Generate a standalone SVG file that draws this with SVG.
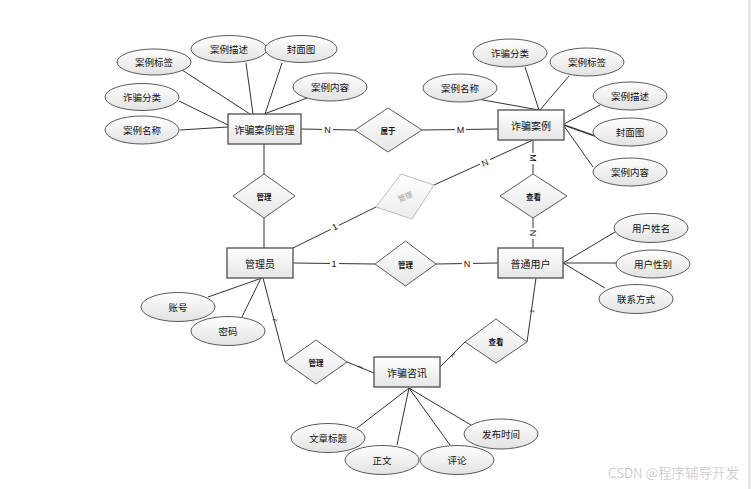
<svg xmlns="http://www.w3.org/2000/svg" width="751" height="489" viewBox="0 0 751 489">
<defs>
<linearGradient id="gE" x1="0" y1="0" x2="0" y2="1"><stop offset="0" stop-color="#ffffff"/><stop offset="1" stop-color="#e2e2e2"/></linearGradient>
<linearGradient id="gR" x1="0" y1="0" x2="0" y2="1"><stop offset="0" stop-color="#ffffff"/><stop offset="1" stop-color="#e6e6e6"/></linearGradient>
<linearGradient id="gG" x1="0" y1="0" x2="0" y2="1"><stop offset="0" stop-color="#ffffff"/><stop offset="1" stop-color="#ececec"/></linearGradient>
</defs>
<style>
text{font-family:"Noto Sans CJK SC","Liberation Sans",sans-serif;fill:#111;text-anchor:middle;dominant-baseline:central}
.ent rect{fill:url(#gR);stroke:#5a5a5a;stroke-width:1.4}
.att ellipse{fill:url(#gE);stroke:#5a5a5a;stroke-width:1}
.rel polygon{fill:url(#gR);stroke:#5a5a5a;stroke-width:1}
.et{font-size:10px}
.at{font-size:9.5px}
.rt{font-size:7.5px;font-weight:bold}
.lb{font-size:9px;font-family:"Liberation Sans",sans-serif}
.sl{font-size:6px;font-family:"Liberation Sans",sans-serif}
#conn line{stroke:#333;stroke-width:1}
</style>
<rect width="751" height="489" fill="#ffffff"/>
<rect x="748" y="0" width="3" height="489" fill="#dfe7ea"/>

<g id="conn">
<line x1="182" y1="70" x2="250" y2="114"/>
<line x1="246" y1="63" x2="253" y2="114"/>
<line x1="282" y1="63" x2="265" y2="114"/>
<line x1="307" y1="98" x2="264" y2="114"/>
<line x1="179" y1="101" x2="228" y2="125"/>
<line x1="180" y1="130" x2="228" y2="127"/>
<line x1="525" y1="67" x2="539" y2="110"/>
<line x1="569" y1="76" x2="540" y2="110"/>
<line x1="472" y1="98" x2="539" y2="110"/>
<line x1="600" y1="105" x2="564" y2="124"/>
<line x1="564" y1="125" x2="595" y2="136" style="stroke-width:1.6"/>
<line x1="564" y1="126" x2="593" y2="167"/>
<line x1="301" y1="129" x2="355" y2="130"/>
<line x1="422" y1="130" x2="498" y2="129"/>
<line x1="264" y1="144" x2="264" y2="174"/>
<line x1="264" y1="218" x2="264" y2="248"/>
<line x1="293" y1="248" x2="376" y2="207"/>
<line x1="434" y1="185" x2="533" y2="140"/>
<line x1="533" y1="140" x2="533" y2="174"/>
<line x1="533" y1="218" x2="533" y2="248"/>
<line x1="293" y1="263" x2="375" y2="264"/>
<line x1="436" y1="264" x2="498" y2="263"/>
<line x1="263" y1="278" x2="285" y2="362"/>
<line x1="347" y1="362" x2="374" y2="373"/>
<line x1="440" y1="367" x2="465" y2="342"/>
<line x1="527" y1="342" x2="536" y2="278"/>
<line x1="208" y1="297" x2="262" y2="278"/>
<line x1="242" y1="317" x2="261" y2="278"/>
<line x1="563" y1="263" x2="615" y2="232"/>
<line x1="563" y1="263" x2="616" y2="263"/>
<line x1="563" y1="263" x2="605" y2="288"/>
<line x1="357" y1="428" x2="409" y2="388"/>
<line x1="397" y1="445" x2="409" y2="388"/>
<line x1="450" y1="445" x2="409" y2="388"/>
<line x1="471" y1="425" x2="409" y2="388"/>
<g>
<rect x="322" y="124" width="11" height="11" fill="#fff"/>
<text class="lb" x="327.5" y="129.5">N</text>
<rect x="455" y="124" width="11" height="11" fill="#fff"/>
<text class="lb" x="460.5" y="130">M</text>
<rect x="330" y="221" width="9" height="11" fill="#fff" transform="rotate(-26 335 227)"/>
<text class="lb" x="335" y="227" transform="rotate(-26 335 227)">1</text>
<rect x="480" y="158" width="11" height="11" fill="#fff" transform="rotate(-24 485 163)"/>
<text class="lb" x="485" y="163" transform="rotate(-24 485 163)">N</text>
<rect x="528" y="153" width="11" height="11" fill="#fff"/>
<text class="lb" x="533" y="158" transform="rotate(90 533 158)">M</text>
<rect x="528" y="228" width="11" height="11" fill="#fff"/>
<text class="lb" x="533" y="233" transform="rotate(90 533 233)">N</text>
<rect x="330" y="258" width="9" height="11" fill="#fff"/>
<text class="lb" x="334" y="264">1</text>
<rect x="462" y="258" width="11" height="11" fill="#fff"/>
<text class="lb" x="467" y="264">N</text>
<text class="sl" x="275" y="320" transform="rotate(-76 275 320)">1</text>
<text class="sl" x="360" y="367" transform="rotate(-68 360 367)">1</text>
<text class="sl" x="453" y="355" transform="rotate(45 453 355)">1</text>
<text class="sl" x="532" y="311" transform="rotate(-82 532 311)">1</text>
</g>
</g>

<g id="e_anliguanli" class="ent"><rect x="228" y="114" width="73" height="30"/><text class="et" x="264.5" y="129.5">诈骗案例管理</text></g>
<g id="e_anli" class="ent"><rect x="498" y="110" width="66" height="30"/><text class="et" x="531" y="125.5">诈骗案例</text></g>
<g id="e_admin" class="ent"><rect x="227" y="248" width="66" height="30"/><text class="et" x="260" y="263.5">管理员</text></g>
<g id="e_user" class="ent"><rect x="498" y="248" width="65" height="30"/><text class="et" x="530.5" y="263.5">普通用户</text></g>
<g id="e_zixun" class="ent"><rect x="374" y="357" width="66" height="30"/><text class="et" x="407" y="372.5">诈骗咨讯</text></g>

<g id="r_shuyu" class="rel"><polygon points="355,130 388,108 422,130 388,152"/><text class="rt" x="388" y="130">属于</text></g>
<g id="r_guanli1" class="rel"><polygon points="233,196 264,174 295,196 264,218"/><text class="rt" x="264" y="196">管理</text></g>
<g id="r_guanli_grey"><polygon points="376,207 401,174 434,185 412,219" style="fill:url(#gG);stroke:#bdbdbd;stroke-width:1"/><text x="405" y="196" transform="rotate(-22 405 196)" style="font-size:7.5px;fill:#a0a0a0;font-weight:normal">管理</text></g>
<g id="r_chakan1" class="rel"><polygon points="500,196 533,174 567,196 533,218"/><text class="rt" x="533.5" y="196">查看</text></g>
<g id="r_guanli2" class="rel"><polygon points="375,264 405.5,241 436,264 405.5,286"/><text class="rt" x="405.5" y="264">管理</text></g>
<g id="r_guanli3" class="rel"><polygon points="285,362 316,340 347,362 316,384"/><text class="rt" x="316" y="362">管理</text></g>
<g id="r_chakan2" class="rel"><polygon points="465,342 496,319 527,342 496,363"/><text class="rt" x="496" y="341">查看</text></g>

<g id="a_m_biaoqian" class="att"><ellipse cx="154" cy="62" rx="37" ry="13"/><text class="at" x="154" y="62">案例标签</text></g>
<g id="a_m_miaoshu" class="att"><ellipse cx="229" cy="49" rx="38" ry="13.5"/><text class="at" x="229" y="49">案例描述</text></g>
<g id="a_m_fengmian" class="att"><ellipse cx="301" cy="49" rx="36" ry="13.5"/><text class="at" x="301" y="49">封面图</text></g>
<g id="a_m_neirong" class="att"><ellipse cx="330" cy="87" rx="37" ry="14"/><text class="at" x="330" y="87">案例内容</text></g>
<g id="a_m_fenlei" class="att"><ellipse cx="142" cy="97" rx="37" ry="13.5"/><text class="at" x="142" y="97">诈骗分类</text></g>
<g id="a_m_mingcheng" class="att"><ellipse cx="142" cy="130" rx="37" ry="14"/><text class="at" x="142" y="130">案例名称</text></g>

<g id="a_c_fenlei" class="att"><ellipse cx="510" cy="53" rx="37" ry="14"/><text class="at" x="510" y="53">诈骗分类</text></g>
<g id="a_c_biaoqian" class="att"><ellipse cx="587" cy="62" rx="37" ry="14"/><text class="at" x="587" y="62">案例标签</text></g>
<g id="a_c_mingcheng" class="att"><ellipse cx="460" cy="88" rx="37" ry="14"/><text class="at" x="460" y="88">案例名称</text></g>
<g id="a_c_miaoshu" class="att"><ellipse cx="630" cy="96" rx="37" ry="14"/><text class="at" x="630" y="96">案例描述</text></g>
<g id="a_c_fengmian" class="att"><ellipse cx="630" cy="132" rx="37" ry="14"/><text class="at" x="630" y="132">封面图</text></g>
<g id="a_c_neirong" class="att"><ellipse cx="630" cy="172" rx="37" ry="14"/><text class="at" x="630" y="172">案例内容</text></g>

<g id="a_zhanghao" class="att"><ellipse cx="178" cy="307" rx="37" ry="14.5"/><text class="at" x="178" y="307">账号</text></g>
<g id="a_mima" class="att"><ellipse cx="228" cy="331" rx="37" ry="14.5"/><text class="at" x="228" y="331">密码</text></g>

<g id="a_xingming" class="att"><ellipse cx="651" cy="228" rx="37" ry="14.5"/><text class="at" x="651" y="228">用户姓名</text></g>
<g id="a_xingbie" class="att"><ellipse cx="653" cy="264" rx="37" ry="14"/><text class="at" x="653" y="264">用户性别</text></g>
<g id="a_lianxi" class="att"><ellipse cx="636" cy="299" rx="37" ry="14.5"/><text class="at" x="636" y="299">联系方式</text></g>

<g id="a_biaoti" class="att"><ellipse cx="328" cy="438" rx="37" ry="14.5"/><text class="at" x="328" y="438">文章标题</text></g>
<g id="a_zhengwen" class="att"><ellipse cx="382" cy="460" rx="37" ry="14.5"/><text class="at" x="382" y="460">正文</text></g>
<g id="a_pinglun" class="att"><ellipse cx="457" cy="460" rx="37" ry="14.5"/><text class="at" x="457" y="460">评论</text></g>
<g id="a_shijian" class="att"><ellipse cx="501" cy="434" rx="37" ry="15"/><text class="at" x="501" y="434">发布时间</text></g>

<text x="673.5" y="472" style="font-size:13.5px;fill:#c0c0c0;font-weight:300">CSDN @程序辅导开发</text>
</svg>
